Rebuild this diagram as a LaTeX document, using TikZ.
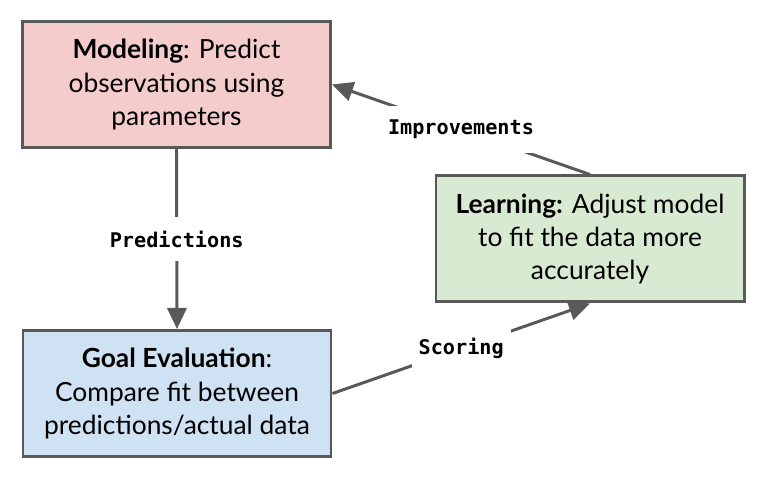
\documentclass[tikz,border=0pt]{standalone}
\usepackage{fontspec}
\setmainfont{Lato}
\setmonofont{DejaVu Sans Mono}
\usepackage{xcolor}
\usetikzlibrary{positioning,arrows.meta}
\definecolor{edgegray}{HTML}{595959}
\definecolor{pinkbox}{HTML}{F4CCCC}
\definecolor{greenbox}{HTML}{D9EAD3}
\definecolor{bluebox}{HTML}{CFE2F3}

\begin{document}
\begin{tikzpicture}[
  box/.style={draw=edgegray, line width=1.7pt, minimum width=6.16cm, minimum height=2.52cm,
    align=center, font=\fontsize{15}{19}\selectfont},
  link/.style={edgegray, line width=1.7pt, -{Triangle[length=12pt,width=11pt]}},
  lbl/.style={fill=white, text=black, font=\ttfamily\bfseries\fontsize{11.5}{13}\selectfont,
    inner xsep=4pt, inner ysep=8pt}]
\useasboundingbox (0,0) rectangle (15.44,9.68);
% the three stages
\node[box, fill=pinkbox] (model) at (3.53,7.99) {\textbf{Modeling}: Predict\\observations using\\parameters};
\node[box, fill=greenbox] (learn) at (11.8,4.9) {\textbf{Learning:} Adjust model\\to fit the data more\\accurately};
\node[box, fill=bluebox] (goal) at (3.54,1.81) {\textbf{Goal Evaluation}:\\Compare fit between\\predictions/actual data};
% the cycle
\draw[link] (model.south) -- node[lbl]{Predictions} (goal.north);
\draw[link] (goal.east) -- node[lbl]{Scoring} (learn.south);
\draw[link] (learn.north) -- node[lbl]{Improvements} (model.east);
\end{tikzpicture}
\end{document}
